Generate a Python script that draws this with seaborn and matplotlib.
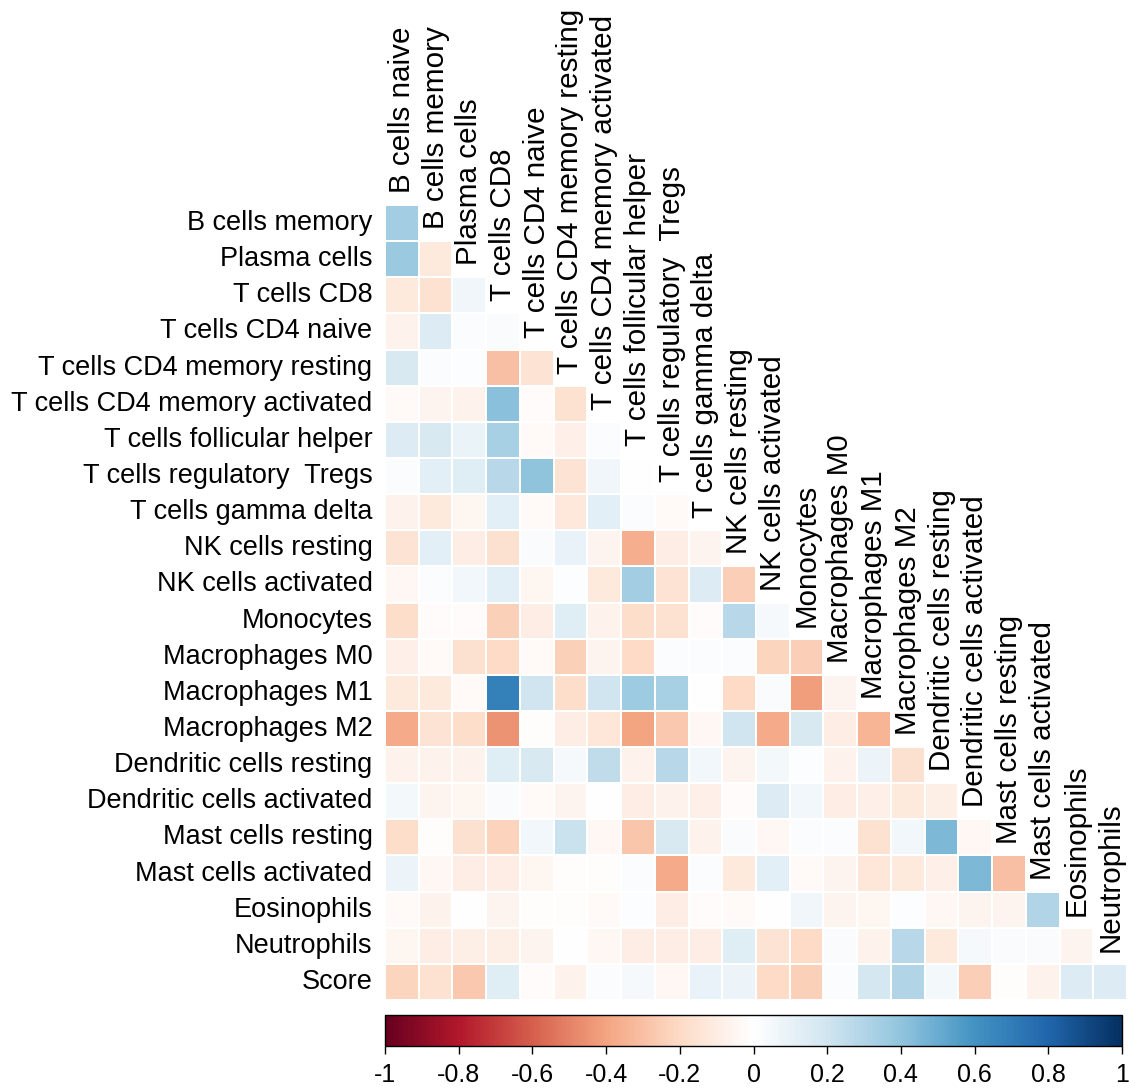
import numpy as np
import pandas as pd
import matplotlib
matplotlib.use("Agg")
import matplotlib.pyplot as plt
from matplotlib.colors import LinearSegmentedColormap
import seaborn as sns

# Cell types along the columns (top) and rows (left)
col_labels = [
    "B cells naive", "B cells memory", "Plasma cells", "T cells CD8",
    "T cells CD4 naive", "T cells CD4 memory resting",
    "T cells CD4 memory activated", "T cells follicular helper",
    "T cells regulatory  Tregs", "T cells gamma delta", "NK cells resting",
    "NK cells activated", "Monocytes", "Macrophages M0", "Macrophages M1",
    "Macrophages M2", "Dendritic cells resting", "Dendritic cells activated",
    "Mast cells resting", "Mast cells activated", "Eosinophils", "Neutrophils",
]
row_labels = col_labels[1:] + ["Score"]

# Lower-triangle correlation coefficients, one list per row
r_b_memory = [0.35]
r_plasma = [0.37, -0.12]
r_cd8 = [-0.12, -0.16, 0.07]
r_cd4_naive = [-0.07, 0.15, 0.02, 0.03]
r_cd4_rest = [0.17, 0.02, 0.01, -0.30, -0.15]
r_cd4_act = [-0.03, -0.06, -0.07, 0.42, -0.02, -0.16]
r_tfh = [0.15, 0.17, 0.09, 0.33, -0.03, -0.08, 0.02]
r_tregs = [0.02, 0.12, 0.14, 0.28, 0.40, -0.15, 0.07, 0.00]
r_gd = [-0.07, -0.12, -0.05, 0.12, -0.03, -0.13, 0.12, 0.02, -0.03]
r_nk_rest = [-0.15, 0.12, -0.10, -0.17, 0.03, 0.10, -0.06, -0.36, -0.10, -0.06]
r_nk_act = [-0.04, 0.02, 0.06, 0.12, -0.05, 0.01, -0.12, 0.35, -0.15, 0.15, -0.25]
r_mono = [-0.18, -0.02, -0.02, -0.24, -0.10, 0.14, -0.07, -0.18, -0.16, -0.02,
          0.28, 0.04]
r_m0 = [-0.08, -0.03, -0.17, -0.20, -0.03, -0.24, -0.06, -0.20, 0.02, 0.02,
        0.02, -0.22, -0.25]
r_m1 = [-0.12, -0.12, -0.03, 0.68, 0.20, -0.18, 0.20, 0.36, 0.33, 0.00,
        -0.20, 0.03, -0.42, -0.06]
r_m2 = [-0.38, -0.15, -0.18, -0.45, -0.01, -0.10, -0.14, -0.40, -0.27, -0.04,
        0.20, -0.38, 0.17, -0.10, -0.34]
r_dc_rest = [-0.07, -0.07, -0.07, 0.14, 0.17, 0.04, 0.25, -0.07, 0.28, 0.06,
             -0.06, 0.05, 0.01, -0.07, 0.08, -0.17]
r_dc_act = [0.05, -0.06, -0.05, 0.03, -0.03, -0.06, 0.00, -0.10, -0.07, -0.08,
            -0.02, 0.15, 0.06, -0.10, -0.08, -0.12, -0.09]
r_mast_rest = [-0.18, -0.01, -0.17, -0.23, 0.06, 0.22, -0.04, -0.28, 0.17,
               -0.07, 0.03, -0.04, 0.02, 0.02, -0.16, 0.06, 0.45, -0.04]
r_mast_act = [0.08, -0.04, -0.10, -0.10, -0.05, -0.01, -0.01, 0.02, -0.38,
              0.02, -0.12, 0.12, -0.03, -0.06, -0.14, -0.12, -0.08, 0.45, -0.30]
r_eos = [-0.03, -0.07, 0.00, -0.06, -0.01, -0.01, -0.03, 0.01, -0.10, -0.02,
         -0.03, 0.00, 0.07, -0.06, -0.05, 0.01, -0.04, -0.06, -0.06, 0.30]
r_neut = [-0.05, -0.10, -0.09, -0.09, -0.06, 0.00, -0.04, -0.10, -0.10, -0.10,
          0.14, -0.15, -0.20, 0.03, -0.07, 0.28, -0.12, 0.04, 0.03, 0.03, -0.06]
r_score = [-0.22, -0.16, -0.27, 0.14, -0.02, -0.07, 0.02, 0.04, -0.04, 0.10,
           0.08, -0.20, -0.24, 0.02, 0.18, 0.30, 0.05, -0.25, -0.01, -0.07,
           0.15, 0.15]

rows = [r_b_memory, r_plasma, r_cd8, r_cd4_naive, r_cd4_rest, r_cd4_act, r_tfh,
        r_tregs, r_gd, r_nk_rest, r_nk_act, r_mono, r_m0, r_m1, r_m2,
        r_dc_rest, r_dc_act, r_mast_rest, r_mast_act, r_eos, r_neut, r_score]

cbar_ticks = [-1, -0.8, -0.6, -0.4, -0.2, 0, 0.2, 0.4, 0.6, 0.8, 1]
cbar_ticklabels = ["-1", "-0.8", "-0.6", "-0.4", "-0.2", "0",
                   "0.2", "0.4", "0.6", "0.8", "1"]

n = len(col_labels)
mat = np.full((n, n), np.nan)
for i, vals in enumerate(rows):
    mat[i, :len(vals)] = vals
df = pd.DataFrame(mat, index=row_labels, columns=col_labels)
mask = np.isnan(mat)

# Diverging red-white-blue palette
palette = ["#67001F", "#B2182B", "#D6604D", "#F4A582", "#FDDBC7", "#FFFFFF",
           "#D1E5F0", "#92C5DE", "#4393C3", "#2166AC", "#053061"]
cmap = LinearSegmentedColormap.from_list("rdbu_corr", palette, N=256)

sns.set_theme(style="white")
plt.rcParams["font.family"] = ["Liberation Sans", "DejaVu Sans"]

W, H = 1129, 1088
fig = plt.figure(figsize=(W / 100, H / 100), dpi=100)
ax = fig.add_axes([385 / W, 1 - 1000 / H, 742 / W, 795 / H])
cax = fig.add_axes([385 / W, 1 - 1046 / H, 737 / W, 31 / H])

sns.heatmap(df, mask=mask, cmap=cmap, vmin=-1, vmax=1, ax=ax, cbar_ax=cax,
            cbar_kws={"orientation": "horizontal", "ticks": cbar_ticks},
            xticklabels=False, yticklabels=row_labels,
            linewidths=0.3, linecolor="white")

ax.set_xlabel("")
ax.set_ylabel("")
ax.tick_params(axis="y", length=0, pad=9, labelsize=19.5, labelcolor="black")
for t in ax.get_yticklabels():
    t.set_rotation(0)

# Column names written vertically above the first cell of each column
for j, name in enumerate(col_labels):
    ax.text(j + 0.5, j - 0.33, name, rotation=90, ha="center", va="bottom",
            fontsize=21.3, color="black", clip_on=False)

cax.set_xticks(cbar_ticks)
cax.set_xticklabels(cbar_ticklabels)
cax.tick_params(axis="x", direction="out", length=6, width=1, color="black",
                labelsize=18, labelcolor="black", pad=6, bottom=True)
cb = ax.collections[0].colorbar
cb.outline.set_edgecolor("black")
cb.outline.set_linewidth(1)

fig.savefig("out.png", dpi=100)
